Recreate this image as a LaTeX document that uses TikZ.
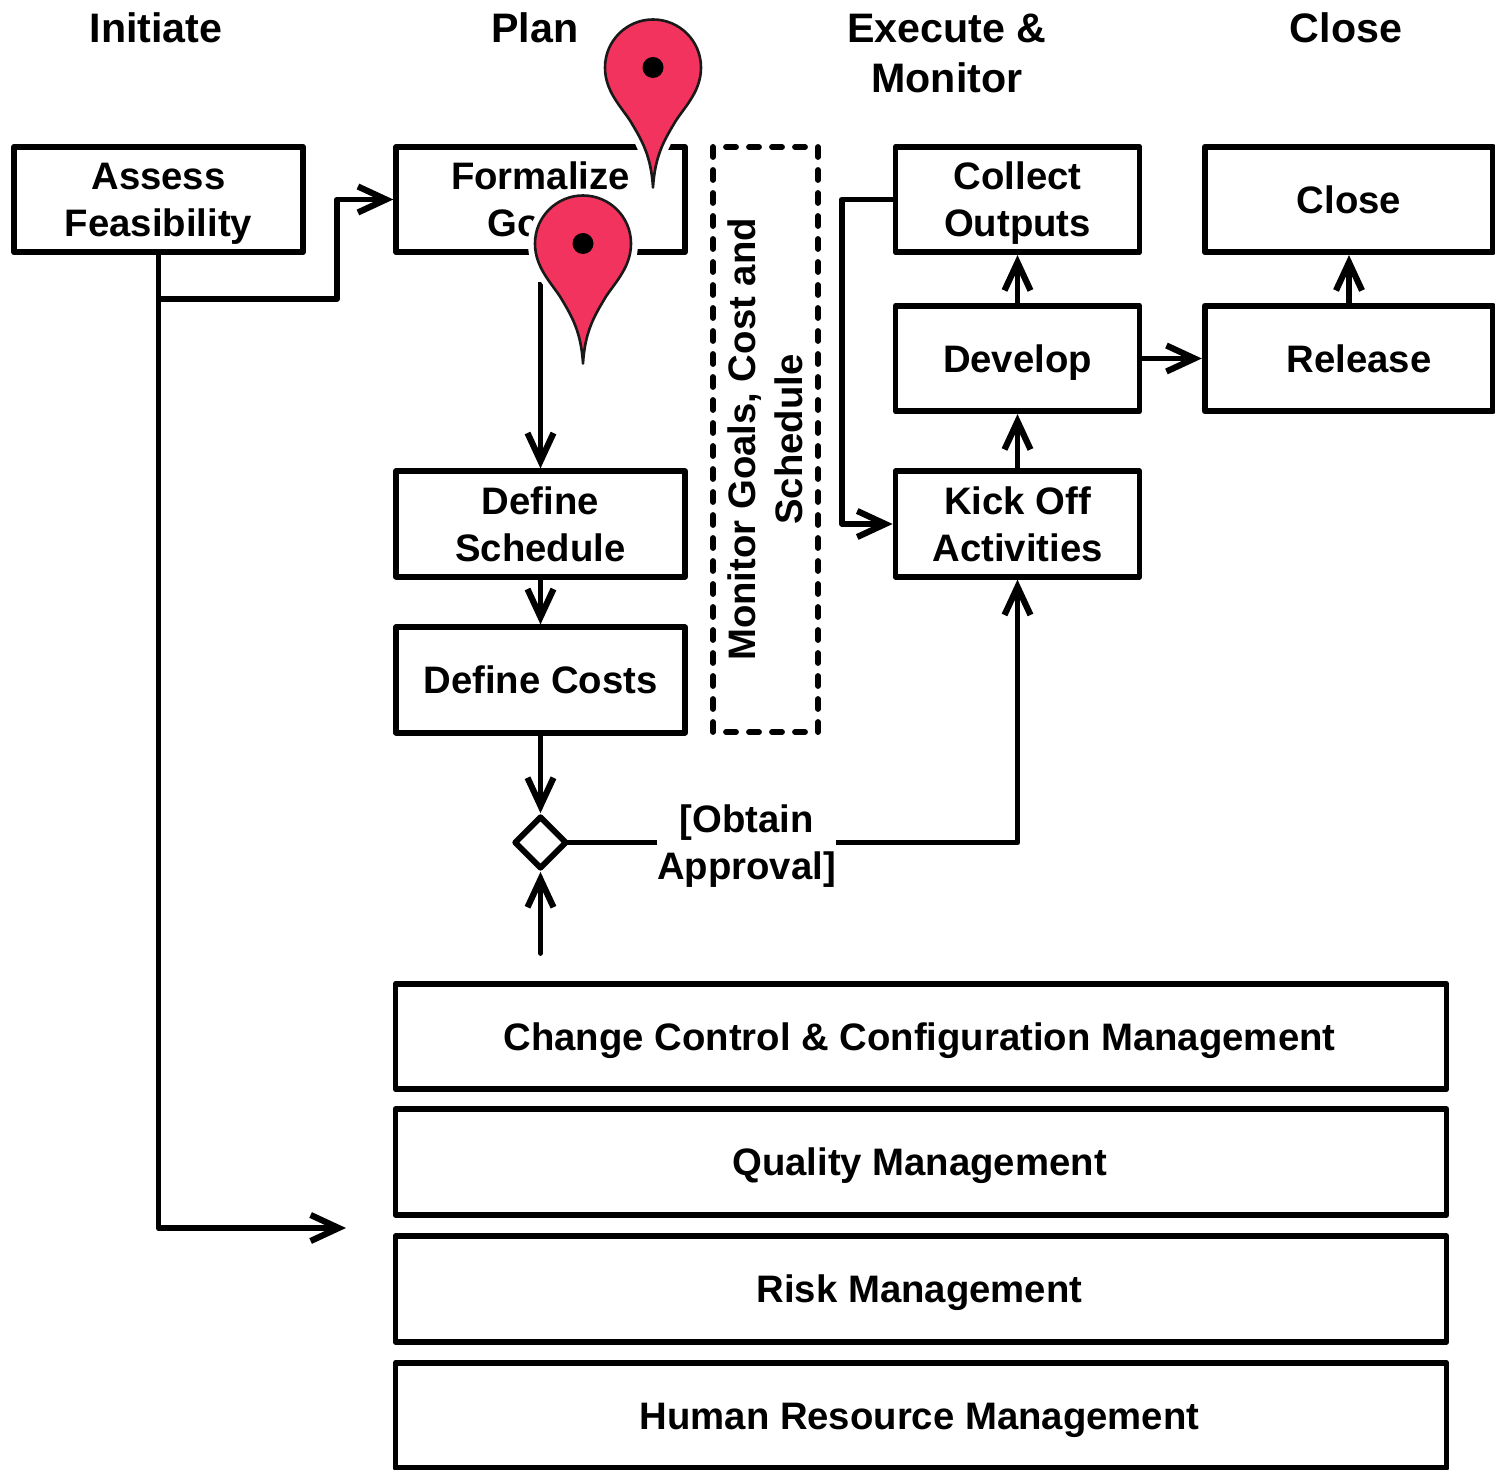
\documentclass[tikz,border=0pt]{standalone}
\usepackage{fontspec}
\setmainfont{Liberation Sans}
\usetikzlibrary{arrows.meta,shapes.geometric}
\definecolor{pinred}{HTML}{F2335E}
\newcommand\capstrut{\rule[-4.5pt]{0pt}{22.8pt}}
\tikzset{
  txt/.style={font=\bfseries\fontsize{19.15}{23.5}\selectfont,align=center,
    execute at end node=\capstrut},
  head/.style={font=\bfseries\fontsize{20.6}{25}\selectfont,align=center,inner sep=0pt},
  boxx/.style={draw,line width=2.9pt,line join=round,inner sep=0pt,txt},
  tall/.style={boxx,minimum width=144.3pt,minimum height=52.7pt},
  mid/.style={boxx,minimum width=122pt,minimum height=52.7pt},
  wide/.style={boxx,minimum width=525.5pt,minimum height=52.7pt,
    execute at end node={\capstrut\hspace*{1.5pt}}},
  conn/.style={line width=2.9pt,line join=round},
  arr/.style={conn,-{Straight Barb[length=14pt,width=13pt,line width=3.1pt]}},
  pin marker/.pic={
    \draw[white,line width=7pt,line join=round,fill=white]
      (-48,0) .. controls (-48,23) and (-33,38) .. (-23,53) .. controls (-11,73) and (-2,88) .. (0,120)
      .. controls (2,88) and (11,73) .. (23,53) .. controls (33,38) and (48,23) .. (48,0)
      arc[start angle=0,end angle=180,x radius=48,y radius=-48] -- cycle;
    \draw[black!90,fill=pinred,line width=1.3pt,line join=round]
      (-48,0) .. controls (-48,23) and (-33,38) .. (-23,53) .. controls (-11,73) and (-2,88) .. (0,120)
      .. controls (2,88) and (11,73) .. (23,53) .. controls (33,38) and (48,23) .. (48,0)
      arc[start angle=0,end angle=180,x radius=48,y radius=-48] -- cycle;
    \fill[black] (0,0) circle[radius=10.5];
  }
}
\begin{document}
\begin{tikzpicture}[x=0.5pt,y=-0.5pt]
\useasboundingbox (0,0) rectangle (1495,1470);
% headers
\node[head] (hinit) at (156,28) {Initiate};
\node[head] (hplan) at (535,28) {Plan};
\node[head] (hexec) at (947,53.5) {Execute \&\\Monitor};
\node[head] (hclose) at (1346,28) {Close};
% boxes
\node[tall,minimum width=144.5pt] (assess) at (158.5,199.5) {\capstrut Assess\\Feasibility};
\node[tall] (formal) at (540.5,199.5) {\capstrut Formalize\\Goals};
\node[tall] (sched) at (540.5,524) {\capstrut Define\\Schedule};
\node[tall] (costs) at (540.5,680) {Define Costs};
\node[mid] (collect) at (1017.5,199.5) {\capstrut Collect\\Outputs};
\node[mid] (develop) at (1017.5,358.5) {Develop};
\node[mid] (kick) at (1017.5,524) {\capstrut Kick Off\\Activities};
\node[tall] (close) at (1349,199.5) {Close};
\node[tall] (release) at (1349,358.5) {\hspace*{10pt}Release};
\node[wide] (change) at (921,1036.5) {Change Control \& Configuration Management};
\node[wide] (quality) at (921,1162) {Quality Management};
\node[wide] (risk) at (921,1289) {Risk Management};
\node[wide] (human) at (921,1415.5) {Human Resource Management};
\node[boxx,rotate=90,minimum width=292.5pt,minimum height=52.5pt,dash pattern=on 5pt off 6.5pt,line cap=round] (monitor) at (765.5,439.5) {\capstrut Monitor Goals, Cost and\\Schedule};
\node[draw,diamond,aspect=1,line width=2.9pt,line join=round,fill=white,inner sep=0pt,minimum width=26.5pt,minimum height=26.5pt] (gate) at (540.5,842.5) {};
\node[txt,fill=white,inner sep=0pt] (approval) at (746.5,842.5) {\capstrut [Obtain\\Approval]};
% free ends
\coordinate (branch) at (158.5,299);
\coordinate (mgmt) at (346,1228);
\coordinate (feed) at (540.5,953);
% connectors
\draw[arr] (assess.south -| branch) |- (mgmt);
\draw[arr] (branch) -- (337,299) |- (formal.west);
\draw[arr] (formal.south) -- (sched.north);
\draw[arr] (sched.south) -- (costs.north);
\draw[arr] (costs.south) -- (gate.north);
\draw[arr,line cap=round] (feed) -- (gate.south);
\draw[conn,shorten <=-2pt] (gate.east) -- (approval.west);
\draw[arr] (approval.east) -| (kick.south);
\draw[arr] (kick.north) -- (develop.south);
\draw[arr] (develop.north) -- (collect.south);
\draw[arr] (collect.west) -- (842,199.5) |- (kick.west);
\draw[arr] (develop.east) -- (release.west);
\draw[arr] (release.north) -- (close.south);
% pins
\fill[white] (530,250) rectangle (546,282);
\pic at (653,67.5) {pin marker};
\pic at (583,243.5) {pin marker};
\end{tikzpicture}
\end{document}
